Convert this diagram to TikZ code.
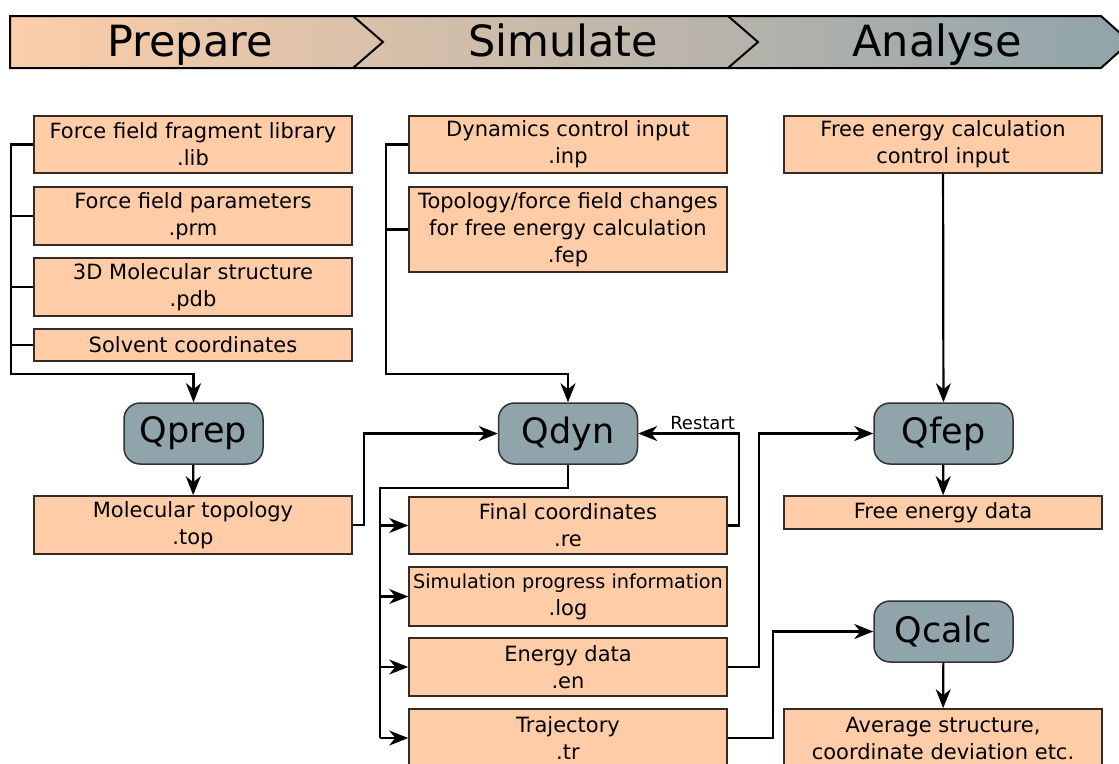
\documentclass[tikz,border=0pt]{standalone}
\usepackage{fontspec}
\setmainfont{DejaVu Sans}
\usepackage{xcolor}
\usepackage{tikz}
\usetikzlibrary{shapes.geometric, arrows.meta}

\definecolor{peach}{RGB}{255,204,168}
\definecolor{slate}{RGB}{143,164,171}
\definecolor{barleft}{RGB}{252,206,170}
\definecolor{barmid}{RGB}{218,184,158}
\definecolor{edge}{RGB}{55,42,36}

\tikzset{
	filebox/.style={draw=edge, line width=1.6pt, fill=peach, minimum width=318pt, inner sep=0pt, align=center, font=\fontsize{21}{27}\selectfont},
	prog/.style={draw=black!80, line width=1.5pt, fill=slate, rounded corners=16pt, minimum width=139pt, minimum height=61pt, inner sep=0pt, font=\fontsize{35}{40}\selectfont},
	flow/.style={line width=2.2pt},
	arr/.style={flow, -{Stealth[length=19pt,width=15pt,inset=6pt]}},
	phase/.style={anchor=base, font=\fontsize{43}{48}\selectfont},
}

\begin{document}
\begin{tikzpicture}[x=1pt, y=-1pt]
	\useasboundingbox (0,0) rectangle (1119,763);
	\clip (0,0) rectangle (1119,763);

	% banner
	\shade[left color=barleft, middle color=barmid, right color=slate] (10,16) -- (1101,16) -- (1130,42) -- (1101,68) -- (10,68) -- cycle;
	\draw[line width=2pt] (10,16) -- (1101,16) -- (1130,42) -- (1101,68) -- (10,68) -- cycle;
	\draw[line width=2pt] (353,16) -- (383,42) -- (353,68);
	\draw[line width=2pt] (728,16) -- (758,42) -- (728,68);
	\node[phase] (prepare) at (190,56) {Prepare};
	\node[phase] (simulate) at (563,56) {Simulate};
	\node[phase] (analyse) at (937,56) {Analyse};

	% prepare
	\node[filebox, minimum height=57pt] (lib) at (193,144.5) {Force field fragment library\\.lib};
	\node[filebox, minimum height=58pt] (prm) at (193,216) {Force field parameters\\.prm};
	\node[filebox, minimum height=58pt] (pdb) at (193,287) {3D Molecular structure\\.pdb};
	\node[filebox, minimum height=32pt] (solv) at (193,345) {Solvent coordinates};
	\node[prog] (qprep) at (193.5,433.5) {Qprep};
	\node[filebox, minimum height=58pt] (top) at (193,525) {Molecular topology\\.top};

	% simulate
	\node[filebox, minimum height=57pt] (inp) at (568,144.5) {Dynamics control input\\.inp};
	\node[filebox, minimum height=85pt] (fep) at (568,229.5) {Topology/force field changes\\for free energy calculation\\.fep};
	\node[prog] (qdyn) at (568,433.5) {Qdyn};
	\node[filebox, minimum height=57pt] (re) at (568,525.5) {Final coordinates\\.re};
	\node[filebox, minimum height=59pt] (log) at (568,596.5) {\fontsize{19.3}{27}\selectfont Simulation progress information\\.log};
	\node[filebox, minimum height=58pt] (en) at (568,667) {Energy data\\.en};
	\node[filebox, minimum height=58pt] (tr) at (568,738) {Trajectory\\.tr};

	% analyse
	\node[filebox, minimum height=57pt] (feinp) at (943,144.5) {Free energy calculation\\control input};
	\node[prog] (qfep) at (943.5,433.5) {Qfep};
	\node[filebox, minimum height=33pt] (fedata) at (943,512.5) {Free energy data};
	\node[prog] (qcalc) at (943.5,631.5) {Qcalc};
	\node[filebox, minimum height=58pt] (avg) at (943,738) {Average structure,\\coordinate deviation etc.};

	% connectors
	\coordinate (lbus) at (11,374);
	\coordinate (mbus) at (386,374);
	\coordinate (obus) at (380,488);
	\draw[arr] (lib.west) -| (lbus) -| (qprep.north);
	\foreach \n in {prm, pdb, solv}
		\draw[flow] (\n.west) -- (\n.west -| lbus);
	\draw[arr] (qprep) -- (top);
	\draw[arr] (top.east) -- ++(11,0) |- (qdyn.west);
	\draw[arr] (inp.west) -| (mbus) -| (qdyn.north);
	\draw[flow] (fep.west) -- (fep.west -| mbus);
	\draw[flow] (qdyn.south) |- (obus) -- (obus |- tr.west);
	\foreach \n in {re, log, en, tr}
		\draw[arr] (\n.west -| obus) -- (\n.west);
	\draw[arr] (re.east) -- ++(11,0) |- (qdyn.east) node[pos=0.68, above, inner sep=3pt, font=\fontsize{18}{20}\selectfont] {Restart};
	\draw[arr] (en.east) -- ++(31,0) |- (qfep.west);
	\draw[arr] (tr.east) -- ++(45,0) |- (qcalc.west);
	\draw[arr] (feinp) -- (qfep);
	\draw[arr] (qfep) -- (fedata);
	\draw[arr] (qcalc) -- (avg);
\end{tikzpicture}
\end{document}
